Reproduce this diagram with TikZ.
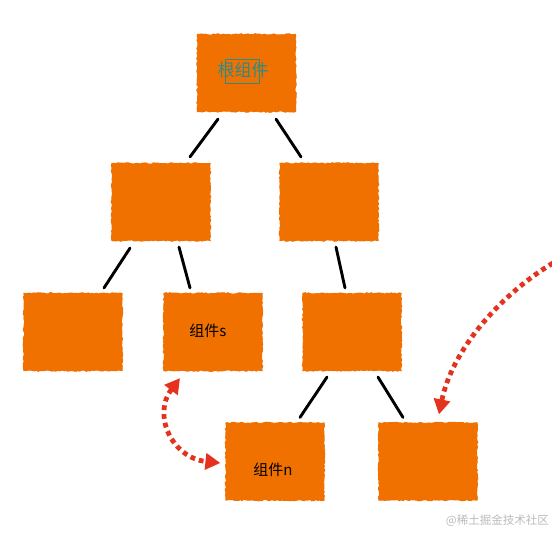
\documentclass[tikz,border=0pt]{standalone}
\usepackage{fontspec}
\newfontfamily\cjk{Noto Sans CJK SC}
\usetikzlibrary{calc,arrows.meta,decorations.pathmorphing}
\definecolor{boxorange}{HTML}{F07100}
\definecolor{rootteal}{HTML}{2A8C8A}
\definecolor{arrowred}{HTML}{E4321E}
\definecolor{wmgray}{HTML}{BBBBBB}
\begin{document}
\begin{tikzpicture}[x=1pt,y=-1pt,
  treebox/.style={minimum width=98pt,minimum height=77pt,inner sep=0pt,
    fill=boxorange,draw=boxorange,line width=1.2pt,
    decorate,decoration={random steps,segment length=2pt,amplitude=0.7pt},
    font=\cjk\fontsize{14}{16}\selectfont},
  link/.style={line width=2.9pt,black,line cap=round},
  redarrow/.style={arrowred,line width=4.8pt,dash pattern=on 4.8pt off 4pt,
    {Triangle[length=15pt,width=16pt,fill=arrowred]}-{Triangle[length=15pt,width=16pt,fill=arrowred]}},
  redarrowone/.style={arrowred,line width=4.8pt,dash pattern=on 4.8pt off 4pt,
    -{Triangle[length=15pt,width=16pt,fill=arrowred]}}
]
\pgfmathsetseed{7}
\fill[white] (0,0) rectangle (552,533);
\useasboundingbox (0,0) rectangle (552,533);

\node[treebox] (root) at (246.5,73) {};
\node[treebox] (la) at (161,202) {};
\node[treebox] (lb) at (329,202) {};
\node[treebox] (a) at (73,332) {};
\node[treebox] (b) at (213,332) {};
\node[treebox] (c) at (352,332) {};
\node[treebox] (d) at (275,461.5) {};
\node[treebox] (e) at (428,461.5) {};

\node[font=\cjk\fontsize{17}{19}\selectfont,text=rootteal,inner sep=0pt] (roottext) at (243,70) {根组件};
\draw[rootteal,line width=0.6pt] (225,59) rectangle (259,83);
\node[font=\cjk\fontsize{15}{17}\selectfont,inner sep=0pt] (btext) at (208,331) {组件s};
\node[font=\cjk\fontsize{15}{17}\selectfont,inner sep=0pt] (dtext) at (273,470) {组件n};

\draw[link] ([shift={(-28.5,7)}]root.south) -- ([shift={(29,-6)}]la.north);
\draw[link] ([shift={(29.5,7)}]root.south) -- ([shift={(-28,-6)}]lb.north);
\draw[link] ([shift={(-31,7)}]la.south) -- ([shift={(31,-5)}]a.north);
\draw[link] ([shift={(18,6)}]la.south) -- ([shift={(-23,-5)}]b.north);
\draw[link] ([shift={(7,6)}]lb.south) -- ([shift={(-7,-5)}]c.north);
\draw[link] ([shift={(-25,6)}]c.south) -- ([shift={(25,-5)}]d.north);
\draw[link] ([shift={(26,6)}]c.south) -- ([shift={(-25,-5)}]e.north);

\draw[redarrow] ([shift={(-33,7)}]b.south) .. controls (152,415) and (172,458) .. ([shift={(-5,1.5)}]d.west);
\coordinate (farend) at (553,263);
\draw[redarrowone] (farend) .. controls (500,295) and (452,350) .. ([shift={(11,-8)}]e.north);

\node[font=\cjk\fontsize{11.5}{13}\selectfont,text=wmgray,anchor=east,inner sep=0pt] (wm) at (549,521) {@稀土掘金技术社区};
\end{tikzpicture}
\end{document}
